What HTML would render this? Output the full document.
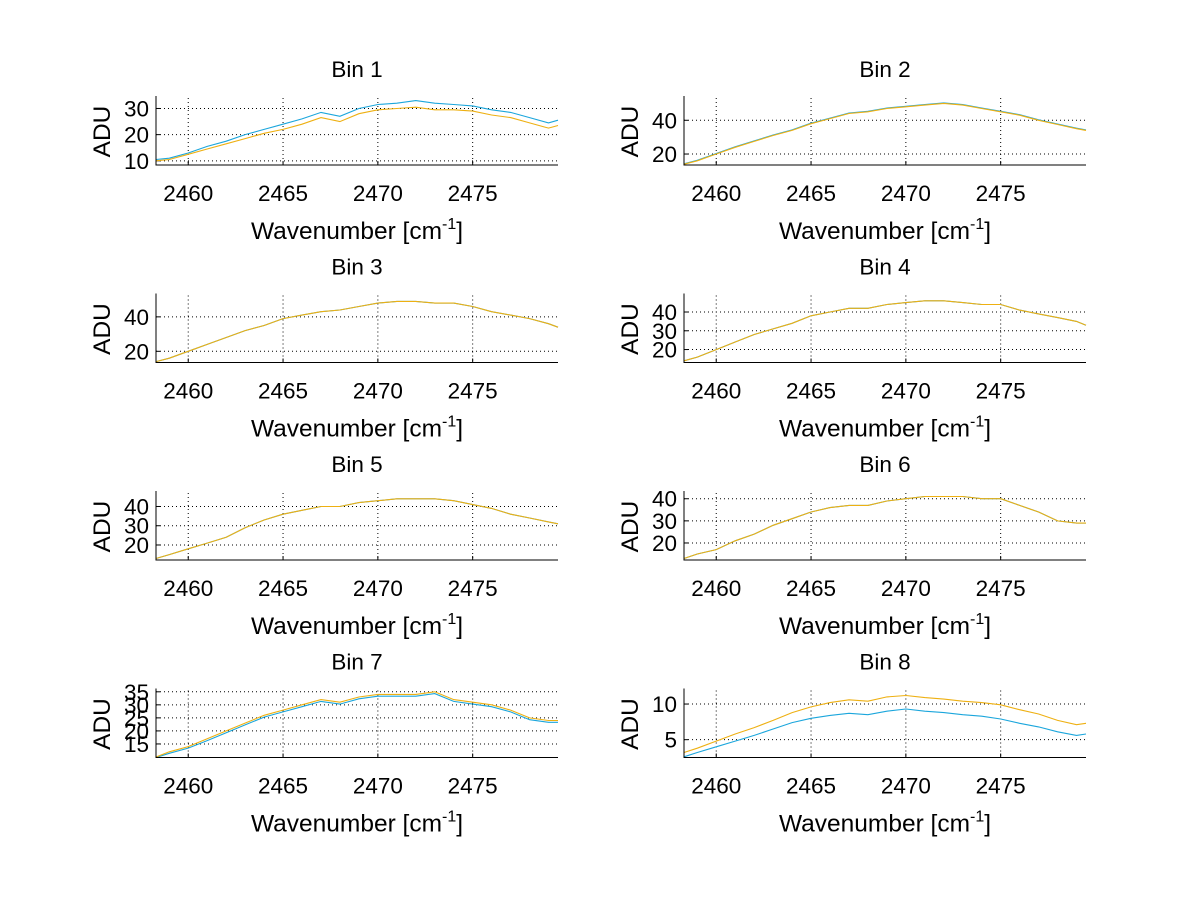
<!DOCTYPE html>
<html><head><meta charset="utf-8"><style>
html,body{margin:0;padding:0;background:#fff;}
svg{display:block;font-family:"Liberation Sans",Arial,sans-serif;}
</style></head><body>
<svg id="fig" width="1200" height="901" viewBox="0 0 1200 901" xmlns="http://www.w3.org/2000/svg"></svg>
<script>
const xs = [2458.3,2459,2460,2461,2462,2463,2464,2465,2466,2467,2468,2469,2470,2471,2472,2473,2474,2475,2476,2477,2478,2479,2479.5];
const xTicks = [2460,2465,2470,2475];
const xLim = [2458.3,2479.5];
const titles = ["Bin 1","Bin 2","Bin 3","Bin 4","Bin 5","Bin 6","Bin 7","Bin 8"];
const yLims = [[8.4,34],[13.5,53.2],[13.5,52.4],[13.1,48.8],[12.2,47],[12.3,42.6],[9.8,35.5],[2.5,11.9]];
const yTicks = [[10,20,30],[20,40],[20,40],[20,30,40],[20,30,40],[20,30,40],[15,20,25,30,35],[5,10]];
const blueSeries = [
 [10.5,11,13,15.5,17.5,20,22,24,26,28.5,27,30,31.5,32,33,32,31.5,31,29.5,28.5,26.5,24.5,25.5],
 [14.2,16.3,20.3,24.3,27.8,31.3,34.3,38.3,41.3,44.3,45.3,47.3,48.3,49.3,50.3,49.3,47.3,45.3,43.3,40.3,37.8,35.3,34.3],
 [14,16,20,24,28,32,35,39,41,43,44,46,48,49,49,48,48,46,43,41,39,36,34],
 [14,16,20,24,28,31,34,38,40,42,42,44,45,46,46,45,44,44,41,39,37,35,33],
 [13,15,18,21,24,29,33,36,38,40,40,42,43,44,44,44,43,41,39,36,34,32,31],
 [13,15,17,21,24,28,31,34,36,37,37,39,40,41,41,41,40,40,37,34,30,29,29],
 [9.8,11.4,13.4,16.3,19.3,22.3,25.3,27.3,29.3,31.3,30.3,32.3,33.3,33.3,33.3,34.3,31.3,30.3,29.3,27.3,24.3,23.3,23.3],
 [2.6,3.2,4,4.8,5.6,6.5,7.4,8,8.4,8.7,8.5,9,9.3,9,8.8,8.5,8.3,7.9,7.3,6.8,6.1,5.6,5.8]
];
const orangeSeries = [
 [10,10.5,12.5,14.5,16.5,18.5,20.5,22,24,26.5,25,28,29.5,30,30.5,29.5,29.5,29,27.5,26.5,24.5,22.5,23.5],
 [14,16,20,24,27.5,31,34,38,41,44,45,47,48,49,50,49,47,45,43,40,37.5,35,34],
 [14,16,20,24,28,32,35,39,41,43,44,46,48,49,49,48,48,46,43,41,39,36,34],
 [14,16,20,24,28,31,34,38,40,42,42,44,45,46,46,45,44,44,41,39,37,35,33],
 [13,15,18,21,24,29,33,36,38,40,40,42,43,44,44,44,43,41,39,36,34,32,31],
 [13,15,17,21,24,28,31,34,36,37,37,39,40,41,41,41,40,40,37,34,30,29,29],
 [10,12,14,17,20,23,26,28,30,32,31,33,34,34,34,35,32,31,30,28,25,24,24],
 [3.2,3.8,4.8,5.8,6.7,7.7,8.8,9.6,10.2,10.6,10.4,11,11.2,10.9,10.7,10.4,10.2,9.9,9.2,8.6,7.7,7.1,7.3]
];
const NS="http://www.w3.org/2000/svg";
const svg=document.getElementById('fig');
function mk(tag,attrs,parent){const e=document.createElementNS(NS,tag);for(const k in attrs)e.setAttribute(k,attrs[k]);(parent||svg).appendChild(e);return e;}
for(let i=0;i<8;i++){
  const col=i%2,row=Math.floor(i/2);
  const L=156+528*col,R=558+528*col,T=98+197.5*row,B=T+67;
  const sx=v=>L+(v-xLim[0])/(xLim[1]-xLim[0])*(R-L);
  const sy=v=>B-(v-yLims[i][0])/(yLims[i][1]-yLims[i][0])*(B-T);
  const g=mk('g',{});
  
  
  xTicks.forEach(t=>{const x=sx(t);
    const gl=mk('line',{x1:x,x2:x,y1:T,y2:B,stroke:'#000','stroke-width':1,'stroke-dasharray':'1,3'},g);
    
    
    const tk=mk('line',{x1:x,x2:x,y1:B,y2:B-4,stroke:'#000','stroke-width':1},g);
    
    
    const tl=mk('text',{x:x,y:B+36,'font-size':22.5,'text-anchor':'middle'},g);tl.textContent=t;
    
    
  });
  yTicks[i].forEach(t=>{const y=sy(t);
    const gl=mk('line',{x1:L,x2:R,y1:y,y2:y,stroke:'#000','stroke-width':1,'stroke-dasharray':'1,3'},g);
    
    
    const tk=mk('line',{x1:L,x2:L+4,y1:y,y2:y,stroke:'#000','stroke-width':1},g);
    
    
    const tl=mk('text',{x:L-7,y:y+8,'font-size':22.5,'text-anchor':'end'},g);tl.textContent=t;
    
    
  });
  [[blueSeries[i],'#1ba6dc','series-blue'],[orangeSeries[i],'#eeb012','series-orange']].forEach(([d,c,n])=>{
    const pts=d.map((v,k)=>sx(xs[k]).toFixed(1)+','+sy(v).toFixed(1)).join(' ');
    const p=mk('polyline',{points:pts,fill:'none',stroke:c,'stroke-width':1.1},g);
    
    
  });
  const ax=mk('path',{d:`M${L} ${T-2} L${L} ${B} L${R} ${B}`,fill:'none',stroke:'#000','stroke-width':1},g);
  
  
  const ti=mk('text',{x:(L+R)/2,y:T-21,'font-size':22.5,'text-anchor':'middle'},g);ti.textContent=titles[i];
  
  
  const yl=mk('text',{x:0,y:0,'font-size':24.5,'text-anchor':'middle',transform:`translate(${L-46},${(T+B)/2}) rotate(-90)`},g);yl.textContent='ADU';
  
  
  const xl=mk('text',{x:(L+R)/2,y:B+74,'font-size':24.5,'text-anchor':'middle'},g);
  xl.innerHTML='Wavenumber [cm<tspan dy="-10" font-size="16">-1</tspan><tspan dy="10">]</tspan>';
  
  
}
</script>
</body></html>
